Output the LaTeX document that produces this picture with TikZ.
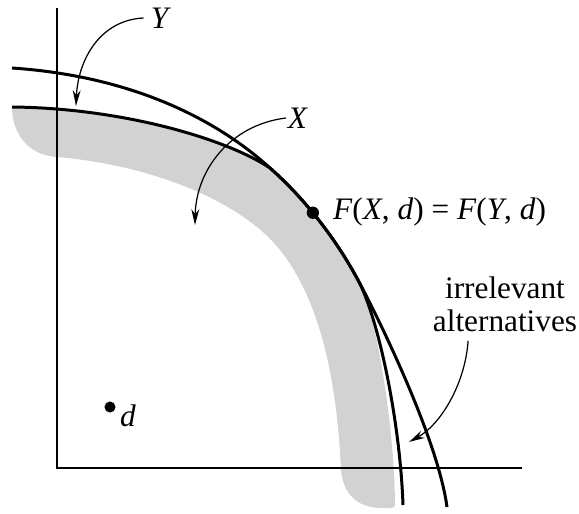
\documentclass[tikz,border=0pt]{standalone}
\usepackage{fontspec}
\setmainfont{Liberation Serif}
\usetikzlibrary{arrows.meta, arrows}

\begin{document}
\begin{tikzpicture}[x=0.02cm,y=-0.02cm,
    axis/.style={line width=0.9pt},
    frontier/.style={line width=1.7pt},
    pointer/.style={-{Stealth[length=9pt,width=4.5pt]},line width=0.7pt},
    lbl/.style={font=\fontsize{17.8}{19}\selectfont,inner sep=1pt},
    dot/.style={circle,fill,inner sep=0pt,minimum size=#1}]
    \useasboundingbox (0,0) rectangle (579,514);

    % shaded band
    \fill[gray!35] (12,107) .. controls (120,108) and (225,138) .. (270,168)
        .. controls (295,190) and (330,228) .. (358,280)
        .. controls (376,314) and (394,420) .. (395,505)
        .. controls (395,509) and (388,508) .. (380,508)
        .. controls (355,507) and (343,492) .. (341,470)
        .. controls (337,380) and (320,300) .. (280,250)
        .. controls (240,200) and (150,165) .. (57,157)
        .. controls (25,155) and (12,130) .. cycle;

    % axes
    \coordinate (o) at (57,468);
    \draw[axis] (57,8) -- (o) -- (522,468);

    % Y (outer) and X (inner)
    \draw[frontier] (12,68) .. controls (130,76) and (215,118) .. (270,168)
        .. controls (295,190) and (330,228) .. (358,280)
        .. controls (380,321) and (438,440) .. (447,507);
    \draw[frontier] (12,107) .. controls (120,108) and (225,138) .. (270,168)
        .. controls (295,190) and (330,228) .. (358,280)
        .. controls (378,317) and (400,420) .. (403,505);
    \path (270,168) .. controls (295,190) and (330,228) .. (358,280)
        coordinate[pos=0.5] (sol);

    % points
    \node[dot=7pt] (p) at (sol) {};
    \node[dot=6.3pt] (dpt) at (110,407) {};

    % labels
    \node[lbl] (ylab) at (161,18) {\textit{Y}};
    \node[lbl] (xlab) at (298,118) {\textit{X}};
    \node[lbl,anchor=west] (eq) at (331,212)
        {\textit{F}(\textit{X}, \textit{d}) = \textit{F}(\textit{Y}, \textit{d})};
    \node[lbl,align=center] (irr) at (505,304) {irrelevant\\alternatives};
    \node[lbl] (dlab) at (128,416) {\textit{d}};

    % pointers
    \coordinate (ytip) at (76,106);
    \coordinate (xtip) at (195,225);
    \coordinate (itip) at (409,442);
    \draw[pointer] ([xshift=-3pt]ylab.west) .. controls (100,20) and (78,60) .. (ytip);
    \draw[pointer] (xlab.west) .. controls (230,125) and (196,170) .. (xtip);
    \draw[pointer] ([xshift=-21pt,yshift=-4pt]irr.south)
        .. controls (465,385) and (440,425) .. (itip);
\end{tikzpicture}
\end{document}
